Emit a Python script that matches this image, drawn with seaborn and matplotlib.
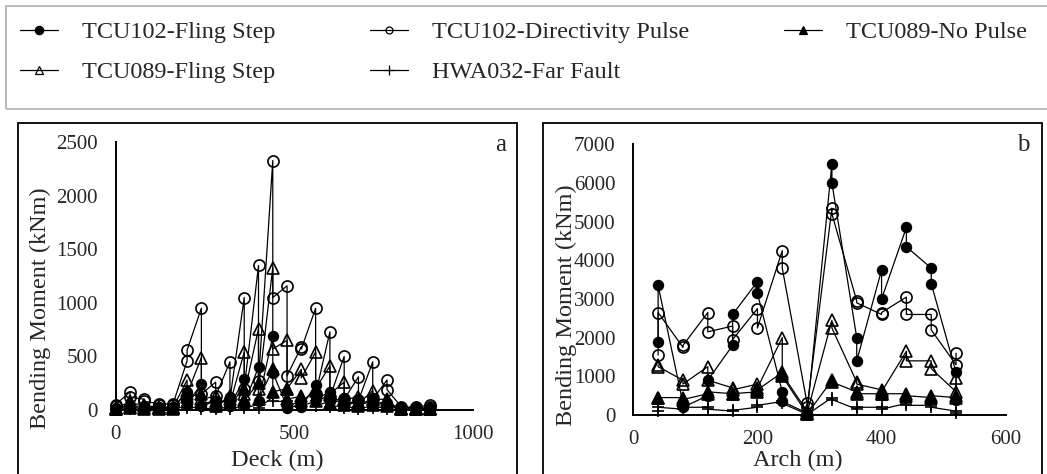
import numpy as np
import pandas as pd
import matplotlib.pyplot as plt
import seaborn as sns
from matplotlib.patches import Rectangle
from matplotlib.lines import Line2D

# stations along the deck and the arch (m)
deck_x = [0, 40, 80, 120, 160, 200, 240, 280, 320, 360, 400, 440,
          480, 520, 560, 600, 640, 680, 720, 760, 800, 840, 880]
arch_x = [40, 80, 120, 160, 200, 240, 280, 320, 360, 400, 440, 480, 520]

# deck bending moments (kNm), two section values per station
deck_tcu102_fling = [20, 10, 50, 30, 40, 20, 30, 20, 30, 20, 170, 60, 240, 40, 80, 30,
                     120, 40, 290, 60, 400, 80, 690, 350, 30, 20, 50, 30, 230, 100,
                     170, 80, 110, 60, 80, 40, 110, 60, 70, 40, 30, 20, 30, 20, 20, 10]
deck_tcu102_dir = [40, 50, 170, 120, 100, 80, 60, 50, 60, 50, 460, 560, 950, 150, 260, 130,
                   450, 100, 1050, 200, 1350, 270, 2330, 1050, 1160, 320, 590, 570, 950, 150,
                   730, 120, 500, 100, 310, 90, 450, 100, 280, 190, 30, 20, 30, 20, 50, 30]
deck_tcu089_nopulse = [10, 5, 30, 20, 20, 10, 20, 10, 20, 10, 180, 120, 150, 60, 80, 40,
                       130, 60, 200, 90, 250, 100, 380, 170, 200, 100, 130, 80, 180, 80,
                       140, 70, 90, 50, 70, 40, 90, 50, 80, 40, 10, 5, 10, 5, 10, 5]
deck_tcu089_fling = [20, 10, 80, 60, 50, 40, 30, 20, 30, 20, 280, 150, 490, 100, 130, 60,
                     100, 60, 540, 150, 760, 200, 1330, 570, 650, 200, 380, 300, 540, 200,
                     410, 150, 260, 100, 120, 60, 180, 100, 100, 60, 20, 10, 20, 10, 20, 10]
deck_hwa032 = [5, 0, 10, 5, 10, 5, 10, 5, 10, 5, 40, 20, 30, 10, 20, 10,
               30, 10, 40, 20, 50, 20, 120, 80, 80, 40, 80, 40, 80, 40,
               80, 30, 40, 20, 30, 10, 40, 20, 30, 10, 5, 0, 5, 0, 5, 0]

# arch bending moments (kNm), two section values per station
arch_tcu102_fling = [1900, 3350, 300, 200, 500, 900, 1800, 2600, 3450, 3150, 600, 350, 50, 30,
                     6500, 6000, 2000, 1400, 3750, 3000, 4850, 4350, 3800, 3400, 1100, 400]
arch_tcu102_dir = [1550, 2650, 1750, 1800, 2650, 2150, 2300, 1950, 2750, 2250, 4250, 3800, 300, 200,
                   5350, 5200, 2950, 2900, 2600, 2650, 3050, 2600, 2600, 2200, 1300, 1600]
arch_tcu089_nopulse = [450, 450, 450, 400, 550, 600, 550, 550, 600, 650, 1100, 1000, 30, 20,
                       900, 850, 600, 550, 550, 550, 550, 500, 450, 500, 450, 500]
arch_tcu089_fling = [1300, 1250, 900, 800, 1250, 900, 700, 650, 800, 700, 2000, 1050, 100, 50,
                     2450, 2250, 850, 800, 650, 600, 1650, 1400, 1400, 1200, 600, 950]
arch_hwa032 = [100, 200, 150, 200, 200, 150, 100, 120, 200, 250, 350, 300, 20, 10,
               450, 400, 150, 200, 200, 150, 300, 250, 250, 200, 100, 50]

labels = ['TCU102-Fling Step', 'TCU102-Directivity Pulse', 'TCU089-No Pulse',
          'TCU089-Fling Step', 'HWA032-Far Fault']

styles = {
    'TCU102-Directivity Pulse': dict(marker='o', markersize=8, markerfacecolor='none'),
    'TCU089-Fling Step': dict(marker='^', markersize=8, markerfacecolor='none'),
    'TCU102-Fling Step': dict(marker='o', markersize=7, markerfacecolor='black'),
    'TCU089-No Pulse': dict(marker='^', markersize=8, markerfacecolor='black'),
    'HWA032-Far Fault': dict(marker='+', markersize=9, markerfacecolor='black'),
}

deck_series = {
    'TCU102-Directivity Pulse': deck_tcu102_dir,
    'TCU089-Fling Step': deck_tcu089_fling,
    'TCU102-Fling Step': deck_tcu102_fling,
    'TCU089-No Pulse': deck_tcu089_nopulse,
    'HWA032-Far Fault': deck_hwa032,
}
arch_series = {
    'TCU102-Directivity Pulse': arch_tcu102_dir,
    'TCU089-Fling Step': arch_tcu089_fling,
    'TCU102-Fling Step': arch_tcu102_fling,
    'TCU089-No Pulse': arch_tcu089_nopulse,
    'HWA032-Far Fault': arch_hwa032,
}

sns.set_style('white')
plt.rcParams['font.family'] = ['Liberation Serif', 'DejaVu Serif']

W, H = 1047, 474
fig = plt.figure(figsize=(W / 100, H / 100), dpi=100)


def px(x, y):
    return x / W, 1 - y / H


ax_a = fig.add_axes([115.7 / W, 1 - 410 / H, 357 / W, 267.7 / H])
ax_b = fig.add_axes([633.3 / W, 1 - 415 / H, 372.4 / W, 270.7 / H])


def draw(ax, xs, series):
    for name, ys in series.items():
        df = pd.DataFrame({'x': np.repeat(xs, 2), 'y': ys})
        sns.lineplot(data=df, x='x', y='y', ax=ax, sort=False, estimator=None,
                     color='black', linewidth=0.9, markeredgecolor='black',
                     markeredgewidth=1.2, clip_on=False, zorder=3, **styles[name])
    ax.set_xlabel('')
    ax.set_ylabel('')
    for s in ['top', 'right']:
        ax.spines[s].set_visible(False)
    for s in ['left', 'bottom']:
        ax.spines[s].set_linewidth(1.4)
        ax.spines[s].set_color('black')
    ax.tick_params(axis='y', length=0, pad=13, labelsize=15)
    ax.tick_params(axis='x', length=0, pad=11, labelsize=15)
    ax.set_facecolor('none')


draw(ax_a, deck_x, deck_series)
ax_a.set_xlim(0, 1000)
ax_a.set_ylim(0, 2500)
ax_a.set_xticks([0, 500, 1000])
ax_a.set_yticks([0, 500, 1000, 1500, 2000, 2500])

draw(ax_b, arch_x, arch_series)
ax_b.set_xlim(0, 600)
ax_b.set_ylim(0, 7000)
ax_b.set_xticks([0, 200, 400, 600])
ax_b.set_yticks(range(0, 7001, 1000))

# axis titles and panel letters
fig.text(*px(40, 308), 'Bending Moment (kNm)', rotation=90, ha='center', va='center', fontsize=17.5)
fig.text(*px(566, 305), 'Bending Moment (kNm)', rotation=90, ha='center', va='center', fontsize=17.5)
fig.text(*px(277, 460), 'Deck (m)', ha='center', va='center', fontsize=17.5)
fig.text(*px(798, 460), 'Arch (m)', ha='center', va='center', fontsize=17.5)
fig.text(*px(501, 145), 'a', ha='center', va='center', fontsize=18)
fig.text(*px(1023, 145), 'b', ha='center', va='center', fontsize=18)

# panel frames and legend box
fig.add_artist(Rectangle(px(18, 490), 498.5 / W, 367 / H, transform=fig.transFigure,
                         fill=False, edgecolor='black', linewidth=1.3))
fig.add_artist(Rectangle(px(542.5, 490), 499 / W, 367 / H, transform=fig.transFigure,
                         fill=False, edgecolor='black', linewidth=1.3))
fig.add_artist(Rectangle(px(6, 108.5), 1060 / W, 102.5 / H, transform=fig.transFigure,
                         fill=False, edgecolor='#b4b4b4', linewidth=1.3))

leg_style = {
    'TCU102-Fling Step': dict(marker='o', markersize=6, markerfacecolor='black'),
    'TCU102-Directivity Pulse': dict(marker='o', markersize=5, markerfacecolor='none'),
    'TCU089-No Pulse': dict(marker='^', markersize=6, markerfacecolor='black'),
    'TCU089-Fling Step': dict(marker='^', markersize=6, markerfacecolor='none'),
    'HWA032-Far Fault': dict(marker='+', markersize=7, markerfacecolor='black'),
}
order = ['TCU102-Fling Step', 'TCU089-Fling Step', 'TCU102-Directivity Pulse',
         'HWA032-Far Fault', 'TCU089-No Pulse']
handles = [Line2D([], [], color='black', linewidth=0.9, markeredgecolor='black',
                  markeredgewidth=0.9, **leg_style[n]) for n in order]
fig.legend(handles, order, loc='upper left', bbox_to_anchor=px(20, 21), ncol=3,
           frameon=False, fontsize=17.5, handlelength=1.55, handletextpad=1.0,
           columnspacing=3.9, labelspacing=0.75, borderpad=0, borderaxespad=0)

fig.savefig('out.png', dpi=100)
